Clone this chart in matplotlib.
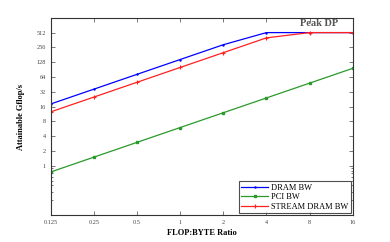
import matplotlib.pyplot as plt
from matplotlib.ticker import FixedLocator, NullFormatter

x = [0.125, 0.25, 0.5, 1, 2, 4, 8, 16]
x_labels = ['0.125', '0.25', '0.5', '1', '2', '4', '8', '16']
dram_bw = [18.1, 36.2, 72.5, 145, 290, 512, 512, 512]
pci_bw = [0.75, 1.5, 3, 6, 12, 24, 48, 96]
stream_bw = [12.5, 25, 50, 100, 200, 400, 512, 512]
y_ticks = [1, 2, 4, 8, 16, 32, 64, 128, 256, 512]
y_minor = [0.2, 0.3, 0.4, 0.5, 0.6, 0.7, 0.8, 0.9]

plt.rcParams['font.family'] = ['Liberation Serif', 'DejaVu Serif']

fig = plt.figure(figsize=(3.9, 2.42), dpi=100)
ax = fig.add_axes([50.7 / 390, 1 - 215 / 242, (352.7 - 50.7) / 390, (215 - 18.3) / 242])

ax.plot(x, dram_bw, color='#0000ff', lw=0.9, marker='.', ms=1.5, label='DRAM BW')
ax.plot(x, pci_bw, color='#2a9a2a', lw=0.9, marker='s', ms=2, label='PCI BW')
ax.plot(x, stream_bw, color='#ff2020', lw=0.9, marker='+', ms=3.5, mew=0.8, label='STREAM DRAM BW')

ax.set_xscale('log', base=2)
ax.set_yscale('log', base=2)
ax.set_xlim(0.125, 16)
ax.set_ylim(0.1, 1000)
ax.xaxis.set_major_locator(FixedLocator(x))
ax.set_xticklabels(x_labels)
ax.xaxis.set_minor_locator(FixedLocator([]))
ax.yaxis.set_major_locator(FixedLocator(y_ticks))
ax.set_yticklabels([str(v) for v in y_ticks])
ax.yaxis.set_minor_locator(FixedLocator(y_minor))
ax.yaxis.set_minor_formatter(NullFormatter())

ax.tick_params(which='both', direction='in', top=True, right=True, labelsize=4.5,
               labelcolor='#444444', width=0.5, color='#444444')
ax.tick_params(which='major', length=3)
ax.tick_params(which='minor', length=1.5)
for s in ax.spines.values():
    s.set_linewidth(0.8)
    s.set_color('#333333')

ax.set_xlabel('FLOP:BYTE Ratio', fontsize=6, fontweight='bold', labelpad=3)
ax.set_ylabel('Attainable Gflop/s', fontsize=6, fontweight='bold', labelpad=8)

# label for the compute ceiling
ax.annotate('Peak DP', xy=(0.89, 0.972), xycoords='axes fraction', color='#555555',
            fontsize=7.5, fontweight='bold', ha='center', va='center')

leg = ax.legend(loc='lower right', fontsize=6, frameon=True, fancybox=False,
                borderpad=0.3, labelspacing=0.2, handlelength=3.2, handletextpad=0.4,
                borderaxespad=0.2)
leg.get_frame().set_edgecolor('#222222')
leg.get_frame().set_linewidth(0.8)

fig.savefig('out.png', dpi=100)
